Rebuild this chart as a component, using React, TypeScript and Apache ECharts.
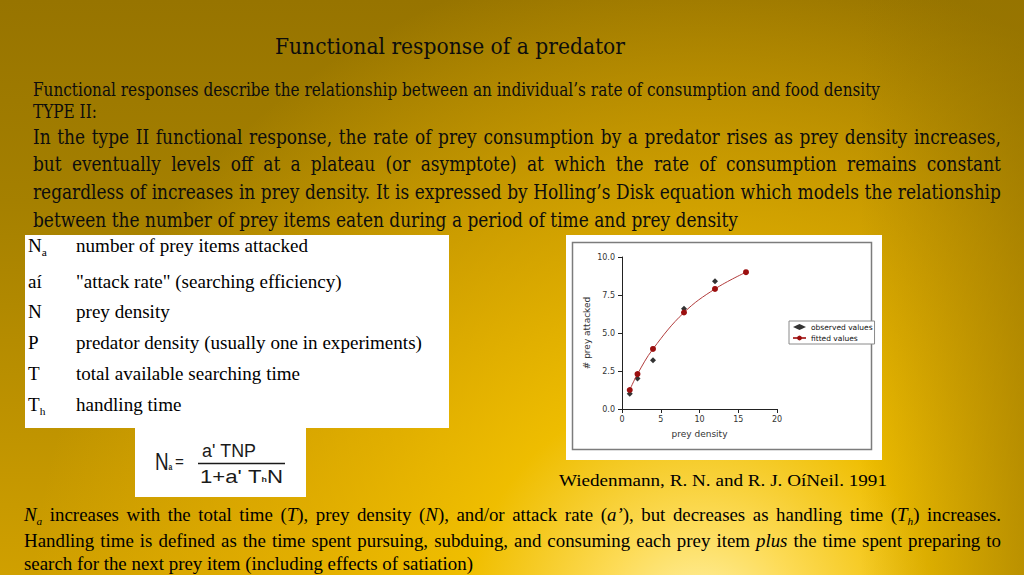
import React, { useEffect, useRef } from "react";
import * as echarts from "echarts";

// ---------- chart data ----------
const preyDensityObserved = [1, 2, 4, 8, 12];
const preyAttackedObserved = [1.0, 2.0, 3.2, 6.6, 8.4];
const preyDensityFitted = [1, 2, 4, 8, 12, 16];
const preyAttackedFitted = [1.25, 2.3, 3.95, 6.35, 7.9, 9.0];
const legendNames = ["observed values", "fitted values"];
const axisNames = ["prey density", "# prey attacked"];

// ---------- slide texts ----------
type Seg = { t: string; i?: boolean; sub?: boolean };
const titleText = "Functional response of a predator";
const introLines = [
  "Functional responses describe the relationship between an individual’s rate of consumption and food density",
  "TYPE II:",
];
const typeIILines = [
  "In the type II functional response, the rate of prey consumption by a predator rises as prey density increases,",
  "but eventually levels off at a plateau (or asymptote) at which the rate of consumption remains constant",
  "regardless of increases in prey density. It is expressed by Holling’s Disk equation which models the relationship",
  "between the number of prey items eaten during a period of time and prey density",
];
const symbolNames: Seg[][] = [
  [{ t: "N" }, { t: "a", sub: true }],
  [{ t: "aí" }],
  [{ t: "N" }],
  [{ t: "P" }],
  [{ t: "T" }],
  [{ t: "T" }, { t: "h", sub: true }],
];
const symbolMeanings = [
  "number of prey items attacked",
  '"attack rate" (searching efficiency)',
  "prey density",
  "predator density (usually one in experiments)",
  "total available searching time",
  "handling time",
];
const formulaLeft: Seg[] = [{ t: "N" }, { t: "a", sub: true }];
const formulaEq = "=";
const formulaTop: Seg[] = [{ t: "a' TNP" }];
const formulaBottom: Seg[] = [{ t: "1+a' T" }, { t: "h", sub: true }, { t: "N" }];
const citation = "Wiedenmann, R. N. and R. J. OíNeil. 1991";
const bottomLines: Seg[][] = [
  [
    { t: "N", i: true }, { t: "a", i: true, sub: true },
    { t: " increases with the total time (" }, { t: "T", i: true },
    { t: "), prey density (" }, { t: "N", i: true },
    { t: "), and/or attack rate (" }, { t: "a’", i: true },
    { t: "), but decreases as handling time (" }, { t: "T", i: true }, { t: "h", i: true, sub: true },
    { t: ") increases." },
  ],
  [
    { t: "Handling time is defined as the time spent pursuing, subduing, and consuming each prey item " },
    { t: "plus", i: true },
    { t: " the time spent preparing to" },
  ],
  [{ t: "search for the next prey item (including effects of satiation)" }],
];

// ---------- fonts ----------
const SERIF_COND = '"DejaVu Serif Condensed", "DejaVu Serif", serif';
const TIMES = '"Liberation Serif", "Times New Roman", serif';
const SANS = '"Liberation Sans", Arial, sans-serif';
const CHART_FONT = '"DejaVu Sans", Verdana, sans-serif';
const TEXT_COLOR = "#0d0d0d";

let measureCtx: CanvasRenderingContext2D | null = null;
function segSize(seg: Seg, size: number, subRatio = 0.6) {
  return seg.sub ? size * subRatio : size;
}
function segWidth(seg: Seg, size: number, family: string, subRatio = 0.6, subWeight = "normal") {
  if (!measureCtx) measureCtx = document.createElement("canvas").getContext("2d");
  const ctx = measureCtx!;
  ctx.font = `${seg.i ? "italic " : ""}${seg.sub && subWeight === "bold" ? "bold " : ""}${segSize(seg, size, subRatio)}px ${family}`;
  return ctx.measureText(seg.t).width;
}
function tokenize(segs: Seg[]): Seg[] {
  const out: Seg[] = [];
  segs.forEach((s) => {
    s.t.split(/( )/).forEach((p) => {
      if (p.length) out.push({ ...s, t: p });
    });
  });
  return out;
}
function naturalWidth(segs: Seg[], size: number, family: string, subRatio = 0.6, subWeight = "normal") {
  return tokenize(segs).reduce((a, tk) => a + segWidth(tk, size, family, subRatio, subWeight), 0);
}
function plain(t: string): Seg[] {
  return [{ t }];
}

interface LineOpts {
  x: number;
  y: number;
  size: number;
  family: string;
  scale?: number;
  justify?: number;
  align?: "left" | "center";
  color?: string;
  subRatio?: number;
  subWeight?: string;
  subDrop?: number;
}
function buildLine(segs: Seg[], o: LineOpts) {
  const scale = o.scale ?? 1;
  const subRatio = o.subRatio ?? 0.6;
  const subWeight = o.subWeight ?? "normal";
  const tokens = tokenize(segs);
  const widths = tokens.map((tk) => segWidth(tk, o.size, o.family, subRatio, subWeight));
  const total = widths.reduce((a, b) => a + b, 0);
  const nSpaces = tokens.filter((tk) => tk.t === " ").length;
  const extra = o.justify && nSpaces ? (o.justify / scale - total) / nSpaces : 0;
  const children: any[] = [];
  let cx = 0;
  tokens.forEach((tk, k) => {
    if (tk.t === " ") {
      cx += widths[k] + extra;
      return;
    }
    children.push({
      type: "text",
      x: cx,
      y: tk.sub ? o.size * (o.subDrop ?? 0.32) : 0,
      silent: true,
      style: {
        text: tk.t,
        fill: o.color ?? TEXT_COLOR,
        fontSize: segSize(tk, o.size, subRatio),
        fontFamily: o.family,
        fontStyle: tk.i ? "italic" : "normal",
        fontWeight: tk.sub ? subWeight : "normal",
        align: "left",
        verticalAlign: "middle",
      },
    });
    cx += widths[k];
  });
  const fullW = o.justify ? o.justify / scale : total;
  const x0 = o.align === "center" ? o.x - (fullW * scale) / 2 : o.x;
  return { type: "group", x: x0, y: o.y, scaleX: scale, z: 20, silent: true, children };
}

function buildGraphics() {
  const W = 1024;
  const H = 575;
  const els: any[] = [];
  // background layers
  els.push({
    type: "rect", z: -100, silent: true,
    shape: { x: 0, y: 0, width: W, height: H },
    style: {
      fill: new echarts.graphic.LinearGradient(0, 0, 0, 1, [
        { offset: 0, color: "#977400" },
        { offset: 0.35, color: "#a58000" },
        { offset: 1, color: "#d0a000" },
      ]),
    },
  });
  els.push({
    type: "rect", z: -99, silent: true,
    shape: { x: 0, y: 0, width: W, height: H },
    style: {
      fill: new echarts.graphic.RadialGradient(700, 620, 670, [
        { offset: 0, color: "rgba(255,242,170,1)" },
        { offset: 0.15, color: "rgba(255,222,90,0.95)" },
        { offset: 0.35, color: "rgba(246,196,0,0.85)" },
        { offset: 0.7, color: "rgba(238,182,0,0.48)" },
        { offset: 1, color: "rgba(238,182,0,0)" },
      ], true),
    },
  });
  els.push({
    type: "rect", z: -98, silent: true,
    shape: { x: 860, y: 0, width: W - 860, height: H },
    style: {
      fill: new echarts.graphic.LinearGradient(0, 0, 1, 0, [
        { offset: 0, color: "rgba(150,116,0,0)" },
        { offset: 1, color: "rgba(150,116,0,0.55)" },
      ]),
    },
  });
  // white boxes
  els.push({ type: "rect", z: -50, silent: true, shape: { x: 25, y: 235, width: 424, height: 193 }, style: { fill: "#ffffff" } });
  els.push({ type: "rect", z: -50, silent: true, shape: { x: 135, y: 428, width: 171, height: 69 }, style: { fill: "#ffffff" } });
  els.push({ type: "rect", z: -50, silent: true, shape: { x: 566, y: 235, width: 316, height: 225 }, style: { fill: "#ffffff" } });
  els.push({
    type: "rect", z: -49, silent: true,
    shape: { x: 572.5, y: 242.5, width: 299, height: 207 },
    style: { fill: "none", stroke: "#7c7c7c", lineWidth: 1.5 },
  });

  // title
  const titleScale = 350 / naturalWidth(plain(titleText), 23, SERIF_COND);
  els.push(buildLine(plain(titleText), { x: 275, y: 46, size: 23, family: SERIF_COND, scale: titleScale }));

  // intro
  const introScale = 847 / naturalWidth(plain(introLines[0]), 18, SERIF_COND);
  els.push(buildLine(plain(introLines[0]), { x: 33, y: 90, size: 18, family: SERIF_COND, scale: introScale }));
  els.push(buildLine(plain(introLines[1]), { x: 33, y: 112, size: 18, family: SERIF_COND, scale: introScale }));

  // type II paragraph
  const paraScale = 705 / naturalWidth(plain(typeIILines[3]), 20.5, SERIF_COND);
  const paraY = [137, 164, 192, 220];
  typeIILines.forEach((ln, k) => {
    els.push(
      buildLine(plain(ln), {
        x: 33, y: paraY[k], size: 20.5, family: SERIF_COND, scale: paraScale,
        justify: k < 3 ? 968 : undefined,
      })
    );
  });

  // symbol table
  const tableScale = 346 / naturalWidth(plain(symbolMeanings[3]), 18, TIMES);
  const rowY = [246, 282, 312, 343, 374, 405];
  symbolNames.forEach((segs, k) => {
    els.push(buildLine(segs, { x: 28, y: rowY[k], size: 18, family: TIMES, scale: tableScale, color: "#000" }));
    els.push(buildLine(plain(symbolMeanings[k]), { x: 76, y: rowY[k], size: 18, family: TIMES, scale: tableScale, color: "#000" }));
  });

  // formula
  const fColor = "#1a1a1a";
  els.push(buildLine(formulaLeft, {
    x: 155, y: 462, size: 23, family: SANS, color: fColor, scale: 0.82,
    subRatio: 0.36, subWeight: "bold", subDrop: 0.22,
  }));
  els.push(buildLine(plain(formulaEq), { x: 175, y: 461, size: 16, family: SANS, color: fColor, scale: 0.95 }));
  const topScale = 54 / naturalWidth(formulaTop, 19, SANS);
  els.push(buildLine(formulaTop, { x: 202, y: 450, size: 19, family: SANS, color: fColor, scale: topScale }));
  els.push({
    type: "line", z: 20, silent: true,
    shape: { x1: 198, y1: 463.5, x2: 285, y2: 463.5 },
    style: { stroke: fColor, lineWidth: 1.3 },
  });
  const botFScale = 83 / naturalWidth(formulaBottom, 19, SANS, 0.4, "bold");
  els.push(buildLine(formulaBottom, {
    x: 200, y: 476, size: 19, family: SANS, color: fColor, scale: botFScale,
    subRatio: 0.4, subWeight: "bold", subDrop: 0.18,
  }));

  // citation
  const citScale = 328 / naturalWidth(plain(citation), 17, TIMES);
  els.push(buildLine(plain(citation), { x: 559, y: 480, size: 17, family: TIMES, scale: citScale, color: "#000" }));

  // bottom paragraph
  const botScale = 449 / naturalWidth(bottomLines[2], 18, TIMES);
  const botY = [515, 541, 564];
  bottomLines.forEach((segs, k) => {
    els.push(
      buildLine(segs, {
        x: 24, y: botY[k], size: 18, family: TIMES, scale: botScale, color: "#000",
        justify: k < 2 ? 977 : undefined,
      })
    );
  });
  return els;
}

function buildOption(): any {
  const axisColor = "#222";
  const labelColor = "#333";
  return {
    animation: false,
    backgroundColor: "#b08800",
    textStyle: { fontFamily: CHART_FONT },
    grid: { left: 622, top: 257, width: 155, height: 152, containLabel: false },
    legend: {
      orient: "vertical",
      left: 789,
      top: 321,
      itemWidth: 13,
      itemHeight: 6,
      itemGap: 3,
      padding: [2, 2, 2, 3],
      borderColor: "#8a8a8a",
      borderWidth: 1,
      backgroundColor: "#ffffff",
      textStyle: { fontSize: 7.5, color: "#111", fontFamily: CHART_FONT },
      data: legendNames,
      z: 6,
    },
    xAxis: {
      type: "value",
      min: 0,
      max: 20,
      interval: 5,
      name: axisNames[0],
      nameLocation: "middle",
      nameGap: 20,
      nameTextStyle: { fontSize: 9, color: labelColor, fontFamily: CHART_FONT },
      axisLine: { onZero: false, lineStyle: { color: axisColor, width: 1 } },
      axisTick: { length: 4, lineStyle: { color: axisColor } },
      splitLine: { show: false },
      axisLabel: { fontSize: 8, color: labelColor, margin: 6, fontFamily: CHART_FONT },
    },
    yAxis: {
      type: "value",
      min: 0,
      max: 10,
      interval: 2.5,
      name: axisNames[1],
      nameLocation: "middle",
      nameRotate: 90,
      nameGap: 31,
      nameTextStyle: { fontSize: 9, color: labelColor, fontFamily: CHART_FONT },
      axisLine: { show: true, onZero: false, lineStyle: { color: axisColor, width: 1 } },
      axisTick: { show: true, length: 4, lineStyle: { color: axisColor } },
      splitLine: { show: false },
      axisLabel: {
        fontSize: 8,
        color: labelColor,
        margin: 7,
        fontFamily: CHART_FONT,
        formatter: (v: number) => v.toFixed(1),
      },
    },
    series: [
      {
        name: legendNames[0],
        type: "scatter",
        data: preyDensityObserved.map((x, k) => [x, preyAttackedObserved[k]]),
        symbol: "diamond",
        symbolSize: 6,
        itemStyle: { color: "#000000" },
        z: 3,
      },
      {
        name: legendNames[1],
        type: "line",
        data: preyDensityFitted.map((x, k) => [x, preyAttackedFitted[k]]),
        smooth: 0.4,
        symbol: "circle",
        symbolSize: 6,
        showSymbol: true,
        itemStyle: { color: "#9b0f0f" },
        lineStyle: { color: "#b23c3c", width: 1 },
        z: 4,
      },
    ],
    graphic: { elements: buildGraphics() },
  };
}

export default function App() {
  const ref = useRef<HTMLDivElement>(null);
  useEffect(() => {
    document.body.style.margin = "0";
    const chart = echarts.init(ref.current!, null, { renderer: "svg", width: 1024, height: 575 });
    chart.setOption(buildOption());
    return () => chart.dispose();
  }, []);
  return (
    <div
      ref={ref}
      style={{ position: "absolute", left: 0, top: 0, width: 1024, height: 575 }}
    />
  );
}
